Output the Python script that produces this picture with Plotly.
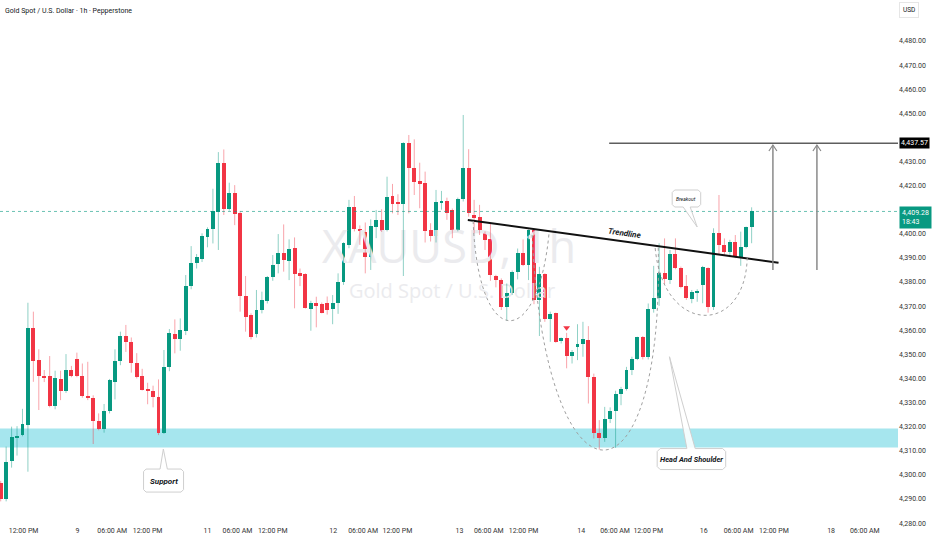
import plotly.graph_objects as go

# hourly candles, XAUUSD (Pepperstone)
opens = [4296.7, 4289.8, 4305.6, 4315.5, 4316.5, 4320.5, 4360.8, 4347.6, 4341.0, 4340.9,
         4328.5, 4339.9, 4334.8, 4343.4, 4348.2, 4341.0, 4332.7, 4332.0, 4322.3, 4319.1,
         4326.3, 4338.6, 4347.2, 4357.7, 4355.1, 4346.6, 4340.9, 4335.7, 4334.9, 4332.2,
         4317.5, 4344.9, 4358.3, 4356.2, 4359.8, 4378.3, 4387.7, 4389.4, 4398.8, 4402.1,
         4408.9, 4429.5, 4410.5, 4416.8, 4408.5, 4374.3, 4366.3, 4358.4, 4368.4, 4372.2,
         4381.9, 4387.4, 4391.9, 4388.8, 4394.2, 4383.6, 4383.3, 4368.8, 4371.1, 4370.8,
         4371.5, 4368.8, 4371.2, 4380.2, 4395.4, 4411.3, 4402.0, 4400.9, 4390.5, 4403.0,
         4405.8, 4401.6, 4415.7, 4412.9, 4412.3, 4437.6, 4427.1, 4421.8, 4421.0, 4401.6,
         4399.1, 4413.0, 4413.8, 4409.9, 4401.6, 4414.3, 4427.2, 4407.8, 4406.9, 4400.2,
         4397.8, 4382.5, 4380.8, 4369.5, 4375.3, 4384.3, 4391.9, 4387.0, 4401.6, 4372.5,
         4383.3, 4364.6, 4367.0, 4355.6, 4356.9, 4349.4, 4352.9, 4354.3, 4355.9, 4340.7,
         4317.5, 4315.5, 4323.0, 4326.6, 4333.4, 4335.6, 4343.5, 4348.0, 4357.0, 4349.0,
         4368.7, 4373.3, 4383.9, 4380.9, 4391.5, 4386.0, 4378.5, 4372.8, 4375.6, 4378.8,
         4385.7, 4369.8, 4400.5, 4395.4, 4392.6, 4396.8, 4390.3, 4394.4, 4403.0]
highs = [4297.5, 4311.7, 4320.0, 4320.2, 4327.4, 4371.4, 4367.7, 4352.1, 4343.5, 4349.3,
         4343.2, 4343.2, 4350.1, 4345.2, 4350.7, 4346.2, 4346.9, 4333.0, 4325.5, 4329.4,
         4339.8, 4352.1, 4359.4, 4362.2, 4357.0, 4350.5, 4344.0, 4338.2, 4337.0, 4339.6,
         4351.8, 4360.5, 4364.5, 4364.9, 4382.9, 4394.9, 4391.6, 4400.2, 4402.7, 4418.7,
         4433.9, 4435.0, 4421.2, 4420.2, 4409.5, 4382.5, 4367.0, 4376.7, 4376.0, 4382.5,
         4391.2, 4399.9, 4403.9, 4397.7, 4398.5, 4385.6, 4383.6, 4372.2, 4373.9, 4371.5,
         4374.0, 4374.6, 4383.6, 4396.5, 4414.1, 4415.7, 4403.5, 4404.7, 4406.0, 4409.9,
         4410.2, 4423.7, 4420.7, 4416.4, 4438.0, 4441.0, 4439.2, 4429.5, 4425.8, 4404.4,
         4418.2, 4417.8, 4415.0, 4410.5, 4415.0, 4449.3, 4435.1, 4414.1, 4412.0, 4401.0,
         4404.6, 4383.0, 4381.5, 4379.4, 4384.8, 4393.9, 4397.7, 4401.8, 4401.9, 4386.3,
         4383.6, 4367.7, 4367.3, 4357.0, 4358.9, 4351.8, 4362.5, 4363.5, 4361.7, 4342.0,
         4322.7, 4328.2, 4328.0, 4334.9, 4336.5, 4344.8, 4349.0, 4357.3, 4357.6, 4371.1,
         4386.7, 4396.1, 4398.1, 4393.3, 4398.1, 4386.4, 4382.9, 4376.7, 4377.0, 4386.7,
         4386.1, 4402.3, 4416.1, 4398.1, 4397.5, 4399.5, 4400.9, 4403.0, 4411.0]
lows = [4289.0, 4289.0, 4303.0, 4308.0, 4316.0, 4301.3, 4338.6, 4326.9, 4338.5, 4328.0,
        4327.2, 4331.0, 4334.0, 4340.5, 4340.5, 4332.0, 4331.0, 4312.8, 4318.5, 4317.5,
        4325.5, 4331.3, 4345.5, 4351.0, 4342.4, 4340.0, 4335.0, 4329.3, 4328.0, 4316.5,
        4317.0, 4343.0, 4350.4, 4351.5, 4358.0, 4377.0, 4385.6, 4388.3, 4394.4, 4396.0,
        4393.3, 4407.8, 4409.6, 4403.6, 4367.7, 4359.4, 4356.2, 4357.0, 4367.0, 4371.1,
        4380.5, 4383.6, 4384.3, 4380.8, 4369.1, 4378.3, 4369.0, 4359.8, 4361.2, 4367.0,
        4366.5, 4362.5, 4366.8, 4378.8, 4394.0, 4401.0, 4395.4, 4383.6, 4385.0, 4398.2,
        4400.8, 4401.0, 4408.5, 4407.8, 4382.5, 4408.5, 4416.1, 4410.6, 4396.4, 4396.8,
        4396.4, 4410.0, 4405.8, 4398.2, 4401.0, 4413.4, 4407.1, 4400.2, 4399.5, 4393.3,
        4380.5, 4377.8, 4368.4, 4363.9, 4374.6, 4381.1, 4386.6, 4380.8, 4370.8, 4357.6,
        4363.5, 4355.2, 4354.8, 4354.5, 4344.2, 4346.2, 4347.6, 4349.0, 4329.6, 4315.1,
        4310.5, 4313.7, 4321.5, 4311.2, 4328.9, 4335.0, 4341.4, 4347.6, 4347.9, 4347.9,
        4367.3, 4370.1, 4379.2, 4379.2, 4385.3, 4377.4, 4372.6, 4371.2, 4371.8, 4371.2,
        4367.3, 4368.4, 4391.6, 4391.2, 4390.3, 4389.9, 4386.7, 4394.0, 4396.1]
closes = [4289.8, 4305.2, 4315.8, 4316.3, 4321.1, 4360.8, 4347.3, 4340.9, 4340.4, 4328.5,
          4340.0, 4334.8, 4343.4, 4341.2, 4341.0, 4332.9, 4332.0, 4322.3, 4319.1, 4326.3,
          4339.3, 4347.2, 4357.7, 4355.1, 4346.6, 4340.7, 4335.2, 4334.9, 4332.1, 4317.5,
          4344.9, 4358.8, 4356.2, 4360.1, 4378.3, 4388.0, 4390.2, 4399.1, 4401.8, 4409.4,
          4429.5, 4410.5, 4416.8, 4408.2, 4374.4, 4365.6, 4357.0, 4368.6, 4372.4, 4382.2,
          4387.2, 4391.9, 4389.1, 4393.9, 4383.2, 4382.9, 4369.1, 4371.1, 4370.2, 4367.3,
          4368.4, 4371.2, 4380.2, 4396.1, 4411.3, 4401.9, 4401.1, 4390.5, 4403.4, 4405.8,
          4401.3, 4415.2, 4412.3, 4412.4, 4437.6, 4427.1, 4421.5, 4421.0, 4401.1, 4399.1,
          4413.0, 4413.8, 4408.5, 4401.6, 4414.3, 4427.2, 4408.5, 4406.4, 4400.2, 4397.5,
          4382.9, 4380.8, 4369.5, 4375.5, 4384.3, 4392.1, 4387.0, 4401.6, 4372.5, 4383.3,
          4364.6, 4366.7, 4355.2, 4356.9, 4349.4, 4350.8, 4354.3, 4356.5, 4340.7, 4317.5,
          4315.5, 4323.0, 4326.6, 4333.4, 4335.6, 4343.5, 4348.0, 4357.0, 4349.0, 4369.0,
          4373.3, 4383.9, 4381.3, 4391.5, 4385.7, 4378.1, 4373.3, 4375.7, 4376.0, 4386.1,
          4369.8, 4400.5, 4395.4, 4392.6, 4396.8, 4390.3, 4394.4, 4403.0, 4409.28]

# time axis labels (position in bars from the first visible candle)
tick_pos = [4.2, 14.1, 20.5, 27, 38, 43.5, 50, 61.1, 66.6, 72.9, 84.3,
            89.7, 96.1, 106.7, 112.9, 119, 129.2, 135.6, 142.1, 152.6, 158.8]
tick_text = ['12:00 PM', '9', '06:00 AM', '12:00 PM', '11', '06:00 AM', '12:00 PM',
             '12', '06:00 AM', '12:00 PM', '13', '06:00 AM', '12:00 PM', '14',
             '06:00 AM', '12:00 PM', '16', '06:00 AM', '12:00 PM', '18', '06:00 AM']
# price scale labels (4,410 and 4,440 sit under the price tags)
price_ticks = [4280, 4290, 4300, 4310, 4320, 4330, 4340, 4350, 4360, 4370, 4380,
               4390, 4400, 4420, 4430, 4450, 4460, 4470, 4480]

support_zone = [4311.3, 4319.2]
target_price = 4437.57
last_price = 4409.28
last_time = '18:43'
signal_bar = [104]
signal_price = [4361.0]

UP = '#089981'
DOWN = '#f23645'
UP_WICK = 'rgba(8,153,129,0.45)'
DOWN_WICK = 'rgba(242,54,69,0.45)'
FONT = 'Roboto, sans-serif'


def px(x, y):
    # screen spot of the hand drawings -> (bar, price)
    return (x - 0.7) / 5.44, 4480 - (y - 41) / 2.41


def poly(pts, close=True):
    s = ''
    for k, p in enumerate(pts):
        bx, by = px(*p)
        s += ('M' if k == 0 else ' L') + f' {bx:.3f},{by:.3f}'
    return s + (' Z' if close else '')


def curve(p0, c1, c2, p1):
    a, b, c, d = (px(*p) for p in (p0, c1, c2, p1))
    return (f'M {a[0]:.3f},{a[1]:.3f} C {b[0]:.3f},{b[1]:.3f} '
            f'{c[0]:.3f},{c[1]:.3f} {d[0]:.3f},{d[1]:.3f}')


idx = list(range(len(opens)))
up = [c >= o for o, c in zip(opens, closes)]

fig = go.Figure()

# watermark behind the candles
wm = [px(449, 252), px(452, 293)]
fig.add_trace(go.Scatter(x=[wm[0][0]], y=[wm[0][1]], mode='text', text=['XAUUSD, 1h'],
                         textfont=dict(size=45, color='#ebebee', family='Open Sans, sans-serif'),
                         hoverinfo='skip', showlegend=False))
fig.add_trace(go.Scatter(x=[wm[1][0]], y=[wm[1][1]], mode='text', text=['Gold Spot / U.S. Dollar'],
                         textfont=dict(size=20, color='#ebebee', family='Open Sans, sans-serif'),
                         hoverinfo='skip', showlegend=False))

# wicks
for want, col in ((True, UP_WICK), (False, DOWN_WICK)):
    wx, wy = [], []
    for i in idx:
        if up[i] == want:
            wx += [i, i, None]
            wy += [lows[i], highs[i], None]
    fig.add_trace(go.Scatter(x=wx, y=wy, mode='lines', line=dict(color=col, width=1),
                             hoverinfo='skip', showlegend=False))

# bodies
fig.add_trace(go.Bar(x=idx,
                     y=[max(abs(c - o), 0.35) for o, c in zip(opens, closes)],
                     base=[min(o, c) for o, c in zip(opens, closes)],
                     width=0.72,
                     marker=dict(color=[UP if u else DOWN for u in up], line_width=0),
                     showlegend=False))

fig.add_trace(go.Scatter(x=signal_bar, y=signal_price, mode='markers',
                         marker=dict(symbol='triangle-down', size=6, color=DOWN),
                         showlegend=False))

shapes = []
# support zone
shapes.append(dict(type='rect', xref='paper', x0=0, x1=1, yref='y',
                   y0=support_zone[0], y1=support_zone[1],
                   fillcolor='#a6e6ee', line_width=0, layer='below'))
# last price dotted line
shapes.append(dict(type='line', xref='paper', x0=0, x1=1, yref='y',
                   y0=last_price, y1=last_price,
                   line=dict(color='rgba(8,153,129,0.6)', width=1, dash='dot')))
# target line
shapes.append(dict(type='line', x0=px(609, 0)[0], x1=px(900, 0)[0],
                   y0=target_price, y1=target_price, line=dict(color='#5e5e5e', width=1.3)))
# trendline
t0, t1 = px(467.7, 220), px(778.3, 262.7)
shapes.append(dict(type='line', x0=t0[0], y0=t0[1], x1=t1[0], y1=t1[1],
                   line=dict(color='#111111', width=2)))
# two target arrows
for ax in (772.7, 816.7):
    shapes.append(dict(type='path', path=poly([(ax, 270), (ax, 145)], close=False),
                       line=dict(color='#8a8a8a', width=1.5)))
    shapes.append(dict(type='path', path=poly([(ax - 4, 151), (ax, 145), (ax + 4, 151)], close=False),
                       line=dict(color='#8a8a8a', width=1.2)))
# dotted shoulders / head
for p in (curve((473, 221), (478, 352), (538, 352), (549, 232)),
          curve((532, 235), (545, 520), (665, 520), (658, 245)),
          curve((655, 248), (663, 336), (745, 336), (747, 258))):
    shapes.append(dict(type='path', path=p, line=dict(color='#a0a0a0', width=1, dash='dot')))
# callouts
bubbles = [
    [(146, 469), (160, 469), (163.3, 449), (167.3, 469), (181, 469), (183.5, 471.5),
     (183.5, 489.5), (181, 492), (146, 492), (143.5, 489.5), (143.5, 471.5)],
    [(660, 448.5), (686.7, 448.5), (669.3, 356.7), (695, 448.5), (722.5, 448.5), (725.5, 451.5),
     (725.5, 466.5), (722.5, 469.5), (660, 469.5), (657, 466.5), (657, 451.5)],
    [(674.5, 190), (698, 190), (700.5, 192.5), (700.5, 204.5), (698, 207), (690, 207),
     (697, 227), (683, 207), (674.5, 207), (672, 204.5), (672, 192.5)],
]
for b in bubbles:
    shapes.append(dict(type='path', path=poly(b), fillcolor='rgba(255,255,255,0.85)',
                       line=dict(color='#cfcfcf', width=1)))

annotations = []


def note(x, y, text, size, angle=0, weight='bold', style='italic'):
    bx, by = px(x, y)
    annotations.append(dict(x=bx, y=by, text=text, showarrow=False, textangle=angle,
                            font=dict(size=size, color='#131722', family=FONT,
                                      weight=weight, style=style)))


note(163.5, 481, 'Support', 8)
note(691, 459, 'Head And Shoulder', 7.5)
note(686.3, 198.5, 'Breakout', 5, weight='normal')
note(625, 233, 'Trendline', 8, angle=8)

annotations += [
    dict(xref='paper', yref='paper', x=0, y=1, xanchor='left', yanchor='top', xshift=3, yshift=-5,
         text='Gold Spot / U.S. Dollar · 1h · Pepperstone', showarrow=False,
         font=dict(size=7, color='#131722', family=FONT)),
    dict(xref='paper', yref='paper', x=1, y=1, xanchor='left', yanchor='top', xshift=1, yshift=-2,
         text='USD', showarrow=False, bordercolor='#e6e6e6', borderwidth=1, borderpad=3,
         bgcolor='white', font=dict(size=6.5, color='#131722', family=FONT)),
    dict(xref='paper', yref='y', x=1, y=target_price, xanchor='left', yanchor='middle', xshift=1,
         text=f'{target_price:,.2f}', showarrow=False, bgcolor='#000000', borderpad=1,
         font=dict(size=7, color='white', family=FONT)),
    dict(xref='paper', yref='y', x=1, y=last_price, xanchor='left', yanchor='top', xshift=1, yshift=5,
         text=f'{last_price:,.2f}<br>{last_time}', showarrow=False, bgcolor=UP, borderpad=2,
         align='left', font=dict(size=7, color='white', family=FONT)),
]

fig.update_layout(
    width=932, height=550,
    template='none',
    margin=dict(l=0, r=34, t=0, b=25),
    plot_bgcolor='white', paper_bgcolor='white',
    showlegend=False,
    bargap=0,
    shapes=shapes,
    annotations=annotations,
    xaxis=dict(range=[-0.13, 164.9], tickmode='array', tickvals=tick_pos, ticktext=tick_text,
               showgrid=False, zeroline=False, showline=False, ticks='', ticklen=0, tickangle=0,
               tickfont=dict(size=7, color='#333333', family=FONT), fixedrange=True),
    yaxis=dict(range=[4279.2, 4497.0], side='right', tickmode='array', tickvals=price_ticks,
               tickformat=',.2f',
               showgrid=False, zeroline=False, showline=False, ticks='', ticklen=0,
               tickfont=dict(size=7, color='#333333', family=FONT), fixedrange=True),
)

fig.write_html('out.html', config={'displayModeBar': False},
               post_script="document.body.style.margin='0';document.body.style.overflow='hidden';")
